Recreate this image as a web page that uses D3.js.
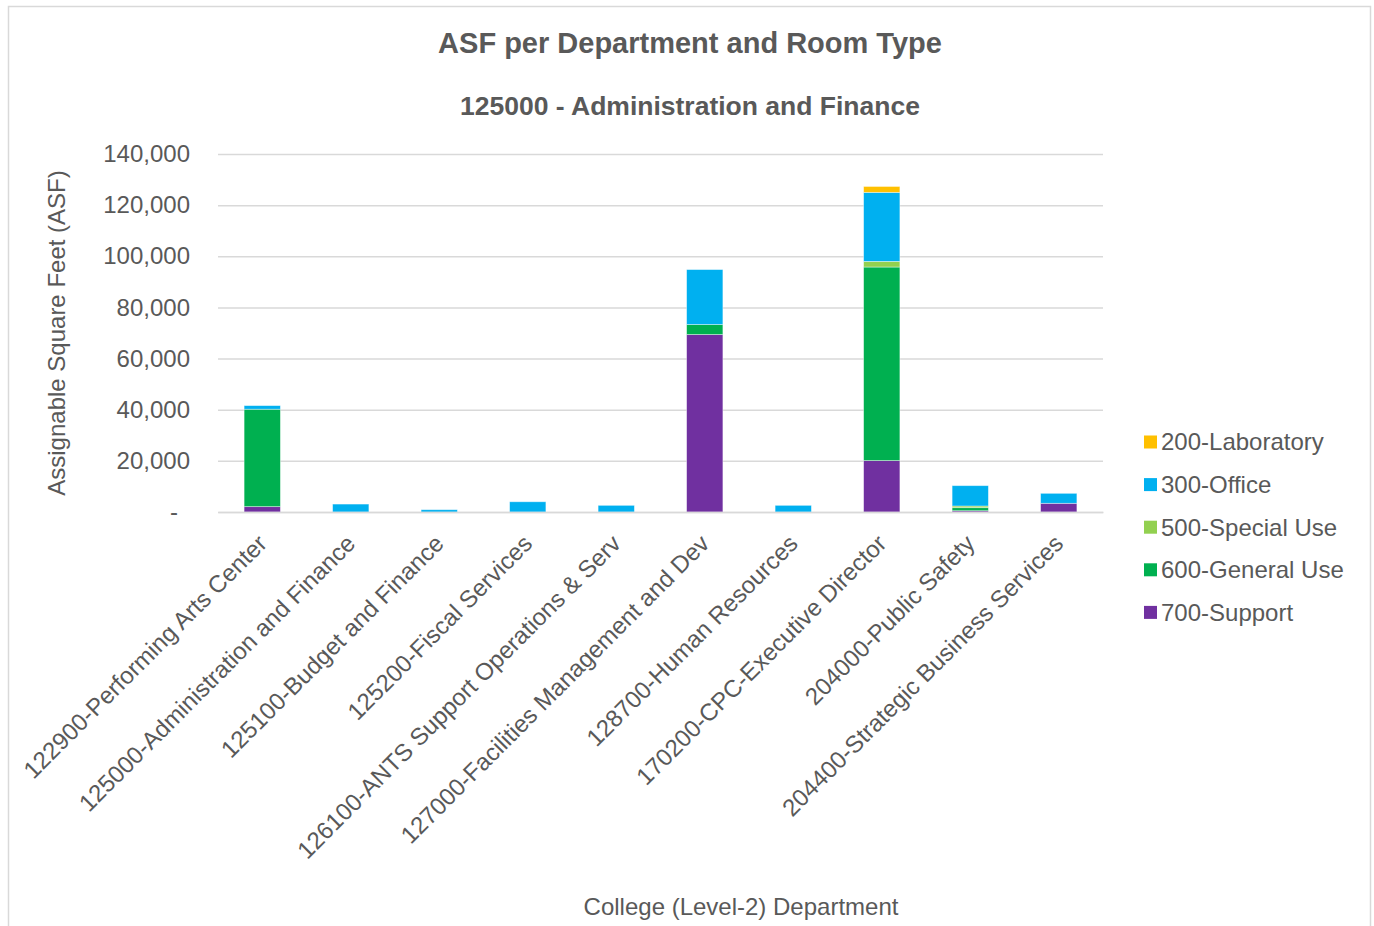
<!DOCTYPE html>
<html>
<head>
<meta charset="utf-8">
<script src="https://cdn.jsdelivr.net/npm/d3@7"></script>
<style>
  body { margin: 0; background: #fff; }
  text { font-family: "Liberation Sans", Arial, sans-serif; fill: #595959; }
</style>
</head>
<body>
<div id="chart"></div>
<script>
// departments along the x axis
var departments = [
  "122900-Performing Arts Center",
  "125000-Administration and Finance",
  "125100-Budget and Finance",
  "125200-Fiscal Services",
  "126100-ANTS Support Operations & Serv",
  "127000-Facilities Management and Dev",
  "128700-Human Resources",
  "170200-CPC-Executive Director",
  "204000-Public Safety",
  "204400-Strategic Business Services"
];

// room types (legend order, top to bottom)
var roomTypes = ["200-Laboratory", "300-Office", "500-Special Use", "600-General Use", "700-Support"];
var roomColors = ["#FFC000", "#00B0F0", "#92D050", "#00B050", "#7030A0"];

// ASF values per room type, one per department
var laboratory = [0, 0, 0, 0, 0, 0, 0, 2300, 0, 0];
var office     = [1400, 3100, 900, 4000, 2600, 21500, 2600, 27000, 7950, 3900];
var specialUse = [0, 0, 0, 0, 0, 0, 0, 2200, 650, 0];
var generalUse = [38100, 0, 0, 0, 0, 3900, 0, 75700, 1200, 0];
var support    = [2100, 0, 0, 0, 0, 69400, 0, 20100, 500, 3400];

var yTicks = [0, 20000, 40000, 60000, 80000, 100000, 120000, 140000];

var W = 1374, H = 926;
var plot = { left: 218, right: 1103, top: 154, bottom: 512 };

var svg = d3.select('#chart').append('svg')
  .attr('width', W)
  .attr('height', H);

// chart area border
svg.append('rect')
  .attr('x', 8.5).attr('y', 6.5)
  .attr('width', 1362).attr('height', 930)
  .attr('fill', 'none')
  .attr('stroke', '#d9d9d9')
  .attr('stroke-width', 1.5);

// build table for stacking
var table = departments.map(function (d, i) {
  return {
    dept: d,
    "200-Laboratory": laboratory[i],
    "300-Office": office[i],
    "500-Special Use": specialUse[i],
    "600-General Use": generalUse[i],
    "700-Support": support[i]
  };
});

var stackKeys = roomTypes.slice().reverse(); // 700 at bottom
var series = d3.stack().keys(stackKeys)(table);

var xScale = d3.scaleBand()
  .domain(departments)
  .range([plot.left, plot.right])
  .paddingInner(0.59)
  .paddingOuter(0.295);

var yScale = d3.scaleLinear()
  .domain([0, 140000])
  .range([plot.bottom, plot.top]);

var color = d3.scaleOrdinal().domain(roomTypes).range(roomColors);

// gridlines
var grid = svg.append('g')
  .attr('transform', 'translate(' + plot.left + ',0)')
  .call(d3.axisLeft(yScale).tickValues(yTicks).tickSize(-(plot.right - plot.left)).tickFormat(''));
grid.select('.domain').remove();
grid.selectAll('line').attr('stroke', '#d9d9d9').attr('stroke-width', 1.5);

// bars
svg.append('g').selectAll('g')
  .data(series)
  .enter().append('g')
  .attr('fill', function (s) { return color(s.key); })
  .selectAll('rect')
  .data(function (s) { return s.filter(function (p) { return p[1] - p[0] > 0; }); })
  .enter().append('rect')
  .attr('x', function (p) { return xScale(p.data.dept); })
  .attr('width', xScale.bandwidth())
  .attr('y', function (p) { return yScale(p[1]); })
  .attr('height', function (p) { return yScale(p[0]) - yScale(p[1]); })
  .attr('stroke', '#fff')
  .attr('stroke-opacity', 0.5)
  .attr('stroke-width', 0.8);

// y axis labels
var yAxis = svg.append('g')
  .attr('transform', 'translate(190,0)')
  .call(d3.axisLeft(yScale).tickValues(yTicks).tickSize(0).tickPadding(0)
    .tickFormat(function (d) { return d === 0 ? '-' : d3.format(',')(d); }));
yAxis.select('.domain').remove();
yAxis.selectAll('text')
  .style('font-size', '24px')
  .attr('fill', '#595959')
  .attr('dx', function (d) { return d === 0 ? '-12px' : 0; });

// x axis labels
var xAxis = svg.append('g')
  .attr('transform', 'translate(0,' + plot.bottom + ')')
  .call(d3.axisBottom(xScale).tickSize(0).tickPadding(0));
xAxis.select('.domain')
  .attr('stroke', '#d9d9d9')
  .attr('stroke-width', 1.5);
xAxis.selectAll('.tick text')
  .style('font-size', '24px')
  .attr('fill', '#595959')
  .attr('text-anchor', 'end')
  .attr('y', 0)
  .attr('dy', '0.71em')
  .attr('transform', 'translate(-6,21) rotate(-45)');

// titles
svg.append('text')
  .attr('x', 690).attr('y', 53)
  .attr('text-anchor', 'middle')
  .style('font-size', '29px')
  .style('font-weight', 'bold')
  .text('ASF per Department and Room Type');

svg.append('text')
  .attr('x', 690).attr('y', 115)
  .attr('text-anchor', 'middle')
  .style('font-size', '26.5px')
  .style('font-weight', 'bold')
  .text('125000 - Administration and Finance');

svg.append('text')
  .attr('x', 741).attr('y', 915)
  .attr('text-anchor', 'middle')
  .style('font-size', '24px')
  .text('College (Level-2) Department');

svg.append('text')
  .attr('transform', 'translate(65,333) rotate(-90)')
  .attr('text-anchor', 'middle')
  .style('font-size', '24px')
  .text('Assignable Square Feet (ASF)');

// legend
var legend = svg.append('g').selectAll('g')
  .data(roomTypes)
  .enter().append('g')
  .attr('transform', function (d, i) { return 'translate(1144,' + (442 + i * 42.6) + ')'; });

legend.append('rect')
  .attr('x', 0).attr('y', -6.5)
  .attr('width', 13).attr('height', 13)
  .attr('fill', function (d) { return color(d); });

legend.append('text')
  .attr('x', 17).attr('y', 0)
  .attr('dy', '0.35em')
  .style('font-size', '24px')
  .text(function (d) { return d; });
</script>
</body>
</html>
